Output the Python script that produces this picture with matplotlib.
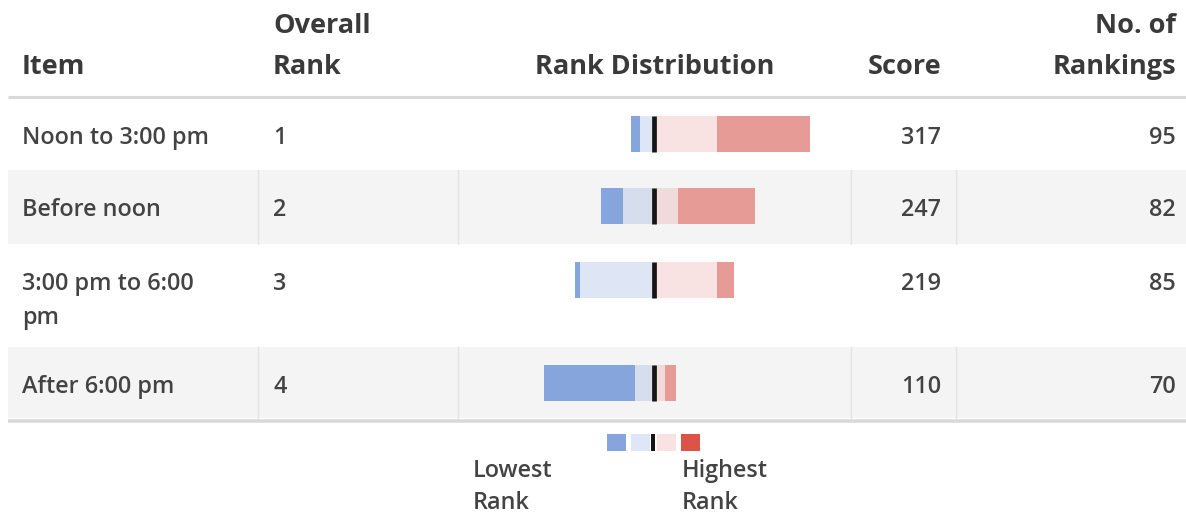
import numpy as np
import matplotlib
matplotlib.use("Agg")
import matplotlib.pyplot as plt
from matplotlib.patches import Rectangle

plt.rcParams['font.family'] = ['Open Sans', 'DejaVu Sans']

# data
items = ["Noon to 3:00 pm", "Before noon", "3:00 pm to 6:00\npm", "After 6:00 pm"]
overall_rank = [1, 2, 3, 4]
scores = [317, 247, 219, 110]
n_rankings = [95, 82, 85, 70]
# counts per rank position (rank 1 = highest)
rank1 = np.array([49, 41, 9, 6])
rank2 = np.array([34, 13, 34, 6])
rank3 = np.array([7, 16, 39, 10])
rank4 = np.array([5, 12, 3, 48])

# layout (pixels)
W, H = 1186, 515
row_tops = [98, 170, 244, 347]
row_bots = [170, 244, 347, 418]
row_fill = ["white", "#f4f4f4", "white", "#f4f4f4"]
col_lines = [258, 458, 851, 956]
center_px = 653.5
px_per_count = 1.88
bar_h = 36

txt = "#434343"
hdr = "#3a3a3a"
dark_blue = "#87a5dd"
dark_red = "#e79b96"
fs_body = 16.8
fs_head = 19.5

fig = plt.figure(figsize=(W / 100, H / 100), dpi=100)
tab = fig.add_axes([0, 0, 1, 1])
tab.set_xlim(0, W)
tab.set_ylim(H, 0)
tab.axis("off")

# header
tab.text(22, 74, "Item", fontsize=fs_head, fontweight="bold", color=hdr)
tab.text(273, 33, "Overall", fontsize=fs_head, fontweight="bold", color=hdr)
tab.text(273, 74, "Rank", fontsize=fs_head, fontweight="bold", color=hdr)
tab.text(655, 74, "Rank Distribution", fontsize=fs_head, fontweight="bold", color=hdr, ha="center")
tab.text(941, 74, "Score", fontsize=fs_head, fontweight="bold", color=hdr, ha="right")
tab.text(1176, 33, "No. of", fontsize=fs_head, fontweight="bold", color=hdr, ha="right")
tab.text(1176, 74, "Rankings", fontsize=fs_head, fontweight="bold", color=hdr, ha="right")

# rows
for i in range(len(items)):
    top, bot = row_tops[i], row_bots[i]
    tab.add_patch(Rectangle((8, top), W - 8, bot - top, color=row_fill[i], lw=0, zorder=0))
    if row_fill[i] != "white":
        for x in col_lines:
            tab.plot([x, x], [top, bot], color="#e4e4e4", lw=1, zorder=1)
    base = top + 46
    for j, line in enumerate(items[i].split("\n")):
        tab.text(22, base + j * 34, line, fontsize=fs_body, color=txt, fontweight="semibold")
    tab.text(273, base, str(overall_rank[i]), fontsize=fs_body, color=txt, fontweight="semibold")
    tab.text(941, base, str(scores[i]), fontsize=fs_body, color=txt, ha="right", fontweight="semibold")
    tab.text(1176, base, str(n_rankings[i]), fontsize=fs_body, color=txt, ha="right", fontweight="semibold")

tab.plot([8, W], [97, 97], color="#d9d9d9", lw=2.2, solid_capstyle="butt")
tab.plot([8, W], [420.5, 420.5], color="#d9d9d9", lw=2.6, solid_capstyle="butt")

# rank distribution bars
bx = fig.add_axes([458 / W, 0, (851 - 458) / W, 1])
bx.set_ylim(H, 0)
bx.set_xlim((458 - center_px) / px_per_count, (851 - center_px) / px_per_count)
bx.axis("off")
bx.patch.set_alpha(0)
yc = np.array([t + 36 for t in row_tops])
bx.barh(yc, -rank3, height=bar_h, color=dark_blue, alpha=0.27, lw=0)
bx.barh(yc, -rank4, left=-rank3, height=bar_h, color=dark_blue, lw=0)
bx.barh(yc, rank2, height=bar_h, color=dark_red, alpha=0.27, lw=0)
bx.barh(yc, rank1, left=rank2, height=bar_h, color=dark_red, lw=0)
bx.vlines(np.zeros(len(yc)), yc - bar_h / 2, yc + bar_h / 2, color="#151515", lw=3.4)

# legend
leg_cols = [dark_blue, "#dfe6f7", "#fae2e2", "#dd534a"]
leg_x = [607, 631, 657, 681]
for x, c in zip(leg_x, leg_cols):
    tab.add_patch(Rectangle((x, 434), 19, 17, color=c, lw=0))
tab.add_patch(Rectangle((651, 434), 4, 17, color="#151515", lw=0))
tab.text(473, 477, "Lowest", fontsize=fs_body, color=txt, fontweight="semibold")
tab.text(473, 509, "Rank", fontsize=fs_body, color=txt, fontweight="semibold")
tab.text(682, 477, "Highest", fontsize=fs_body, color=txt, fontweight="semibold")
tab.text(682, 509, "Rank", fontsize=fs_body, color=txt, fontweight="semibold")

fig.savefig("out.png", dpi=100)
